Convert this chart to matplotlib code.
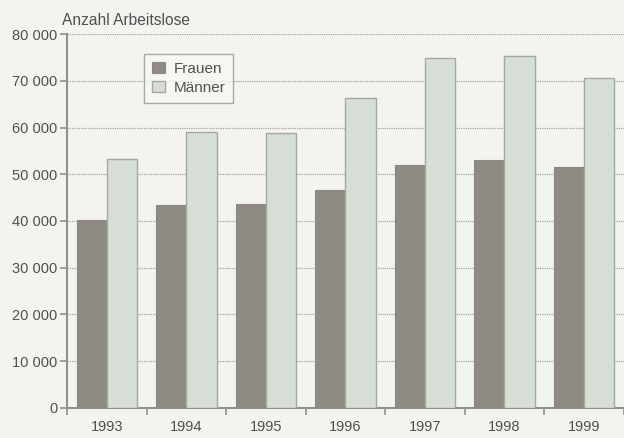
import numpy as np
import matplotlib
matplotlib.use("Agg")
import matplotlib.pyplot as plt
from matplotlib.ticker import FuncFormatter

jahre = ["1993", "1994", "1995", "1996", "1997", "1998", "1999"]
frauen = [40200, 43350, 43550, 46650, 52050, 53150, 51500]
maenner = [53350, 59150, 58800, 66400, 75000, 75350, 70700]

plt.rcParams["font.family"] = ["Liberation Sans", "DejaVu Sans"]

bg = "#f3f3f0"
txt = "#505050"
achse = "#8f948a"

fig = plt.figure(figsize=(6.24, 4.38), dpi=100, facecolor=bg)
ax = fig.add_axes([0.1075, 0.069, 0.892, 0.853], facecolor=bg)

x = np.arange(len(jahre))
w = 0.38
ax.bar(x - w / 2, frauen, w, color="#8f8b84", edgecolor="#8a877f", linewidth=0.8,
       label="Frauen", zorder=3)
ax.bar(x + w / 2, maenner, w, color="#d7ded5", edgecolor="#a3ab9c", linewidth=1.0,
       label="Männer", zorder=3)

ax.set_xlim(-0.5, len(jahre) - 0.5)
ax.set_ylim(0, 80000)

# Jahreszahlen mittig, Striche an den Grenzen
ax.set_xticks(np.arange(len(jahre) + 1) - 0.5)
ax.set_xticklabels([])
ax.set_xticks(x, minor=True)
ax.set_xticklabels(jahre, minor=True)
ax.tick_params(axis="x", which="major", direction="out", length=5, width=1.2, color=achse)
ax.tick_params(axis="x", which="minor", length=0, pad=9, labelsize=10.5, labelcolor=txt)

ax.set_yticks(np.arange(0, 80001, 10000))
ax.yaxis.set_major_formatter(FuncFormatter(lambda v, p: f"{int(v):,}".replace(",", " ")))
ax.tick_params(axis="y", direction="out", length=5, width=1.2, color=achse,
               labelsize=10.5, labelcolor=txt, pad=2)

for v in range(10000, 80001, 10000):
    ax.axhline(v, color="#a8a8a2", linestyle=(0, (1, 0.8)), linewidth=0.9, zorder=1)

for s in ["top", "right"]:
    ax.spines[s].set_visible(False)
for s in ["left", "bottom"]:
    ax.spines[s].set_color(achse)
    ax.spines[s].set_linewidth(1.5)

fig.text(0.099, 0.943, "Anzahl Arbeitslose", fontsize=11.2, color=txt,
         ha="left", va="baseline")

leg = ax.legend(loc="upper left", bbox_to_anchor=(0.138, 0.947), borderaxespad=0,
                fontsize=11, frameon=True, fancybox=False, handlelength=0.85,
                handleheight=0.75, handletextpad=0.6, borderpad=0.5,
                labelspacing=0.35, labelcolor=txt)
leg.get_frame().set_edgecolor("#959890")
leg.get_frame().set_facecolor("#f7f7f5")
leg.get_frame().set_linewidth(1.0)

fig.savefig("out.png", dpi=100, facecolor=bg)
